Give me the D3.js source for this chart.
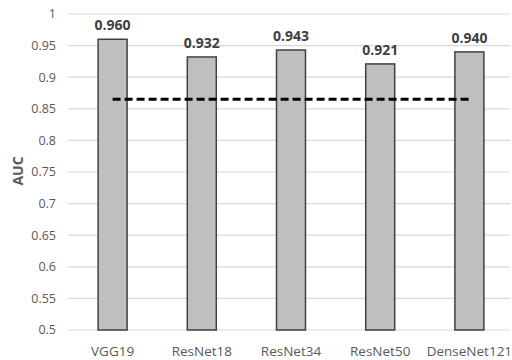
<!DOCTYPE html>
<html><head><meta charset="utf-8">
<script src="https://cdn.jsdelivr.net/npm/d3@7"></script>
<style>body{margin:0;background:#fff}svg{display:block}</style>
</head><body>
<script>
const categories = ["VGG19","ResNet18","ResNet34","ResNet50","DenseNet121"];
const values = [0.960,0.932,0.943,0.921,0.940];
const valueLabels = ["0.960","0.932","0.943","0.921","0.940"];
const baseline = 0.865;
const yTicks = [0.5,0.55,0.6,0.65,0.7,0.75,0.8,0.85,0.9,0.95,1];
const yTickLabels = ["0.5","0.55","0.6","0.65","0.7","0.75","0.8","0.85","0.9","0.95","1"];

const W=512,H=360;
const svg=d3.select("body").append("svg").attr("width",W).attr("height",H);
const font="'Open Sans', 'Liberation Sans', sans-serif";
const x=d3.scaleBand().domain(categories).range([68,514]).padding(0);
const y=d3.scaleLinear().domain([0.5,1]).range([330,14]);

svg.append("g").selectAll("line").data(yTicks).join("line")
  .attr("x1",68).attr("x2",510).attr("y1",d=>y(d)).attr("y2",d=>y(d))
  .attr("stroke","#d9d9d9").attr("stroke-width",1.2);

svg.append("g").selectAll("text").data(yTicks).join("text")
  .attr("x",56).attr("y",d=>y(d)).attr("dy","0.35em").attr("text-anchor","end")
  .attr("font-family",font).attr("font-size",12.5).attr("fill","#595959")
  .text((d,i)=>yTickLabels[i]);

const bw=x.bandwidth()*0.325;
svg.append("g").selectAll("rect").data(values).join("rect")
  .attr("x",(d,i)=>x(categories[i])+x.bandwidth()/2-bw/2)
  .attr("y",d=>y(d)).attr("width",bw).attr("height",d=>y(0.5)-y(d))
  .attr("fill","#bfbfbf").attr("stroke","#404040").attr("stroke-width",1.5);

svg.append("g").selectAll("text").data(values).join("text")
  .attr("x",(d,i)=>x(categories[i])+x.bandwidth()/2).attr("y",d=>y(d)-9)
  .attr("text-anchor","middle").attr("font-family",font).attr("font-size",14)
  .attr("font-weight","bold").attr("fill","#404040")
  .text((d,i)=>valueLabels[i]);

svg.append("line")
  .attr("x1",x(categories[0])+x.bandwidth()/2).attr("x2",x(categories[4])+x.bandwidth()/2)
  .attr("y1",y(baseline)).attr("y2",y(baseline))
  .attr("stroke","#000").attr("stroke-width",3).attr("stroke-dasharray","8,4");

svg.append("g").selectAll("text").data(categories).join("text")
  .attr("x",d=>x(d)+x.bandwidth()/2).attr("y",351).attr("dy","0.35em")
  .attr("text-anchor","middle").attr("font-family",font).attr("font-size",13.5)
  .attr("fill","#595959").text(d=>d);

svg.append("text").attr("transform","translate(18,171) rotate(-90)")
  .attr("text-anchor","middle").attr("dy","0.35em").attr("font-family",font).attr("font-size",14)
  .attr("font-weight","bold").attr("fill","#595959").text("AUC");
</script>
</body></html>
